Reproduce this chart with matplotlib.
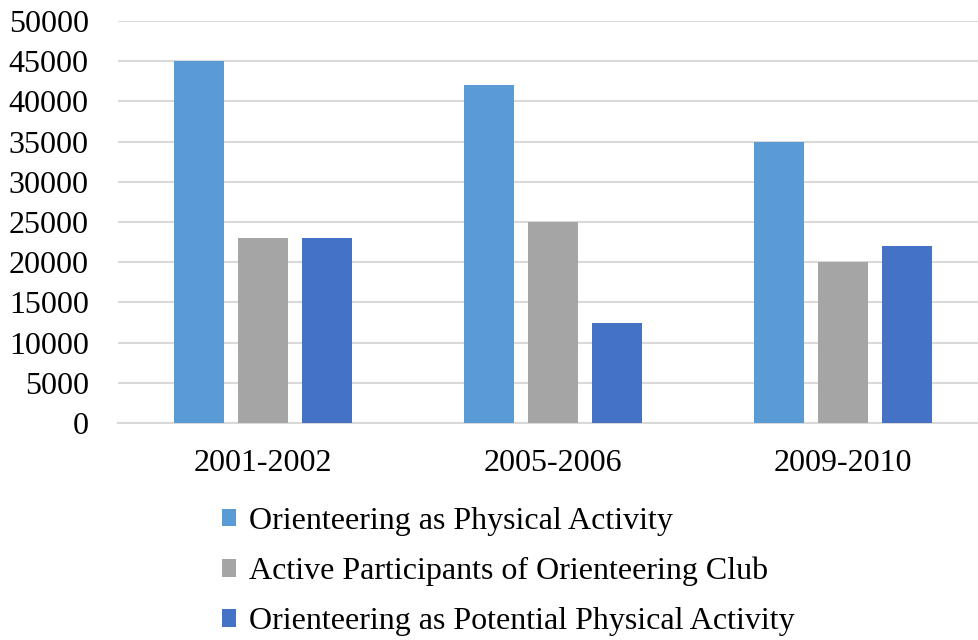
import numpy as np
import matplotlib
matplotlib.use("Agg")
import matplotlib.pyplot as plt

plt.rcParams['font.family'] = ['Liberation Serif', 'DejaVu Serif']

periods = ["2001-2002", "2005-2006", "2009-2010"]
physical = [45000, 42000, 35000]
club = [23000, 25000, 20000]
potential = [23000, 12500, 22000]
series_names = ["Orienteering as Physical Activity",
                "Active Participants of Orienteering Club",
                "Orienteering as Potential Physical Activity"]
colors = ["#5b9bd5", "#a5a5a5", "#4472c4"]

W, H = 979, 640
fig = plt.figure(figsize=(W / 100, H / 100), dpi=100)
ax = fig.add_axes([118 / W, 1 - 423 / H, (979 - 118) / W, (423 - 21) / H])

x = np.arange(len(periods))
bw = 0.172
step = 0.2207
for i, vals in enumerate([physical, club, potential]):
    ax.bar(x + (i - 1) * step, vals, bw, color=colors[i], label=series_names[i], zorder=3)

ax.set_xlim(-0.5, -0.5 + 861 / 290)
ax.set_ylim(0, 50000)
ax.set_yticks(np.arange(0, 50001, 5000))
ax.set_xticks(x)
ax.set_xticklabels(periods)
ax.grid(axis='y', color='#d9d9d9', linewidth=1.5, zorder=0)
for s in ['top', 'right', 'left']:
    ax.spines[s].set_visible(False)
ax.spines['bottom'].set_color('#d9d9d9')
ax.spines['bottom'].set_linewidth(1.5)
ax.tick_params(axis='both', length=0, labelsize=23, colors='black')
ax.tick_params(axis='x', pad=19)
ax.tick_params(axis='y', pad=21)

leg = fig.legend(loc='upper left', bbox_to_anchor=(209 / W, 1 - 494 / H), ncol=1,
                 frameon=False, fontsize=23, handlelength=0.46, handleheight=0.46,
                 handletextpad=0.4, labelspacing=0.66, borderaxespad=0)

fig.savefig("out.png", dpi=100)
